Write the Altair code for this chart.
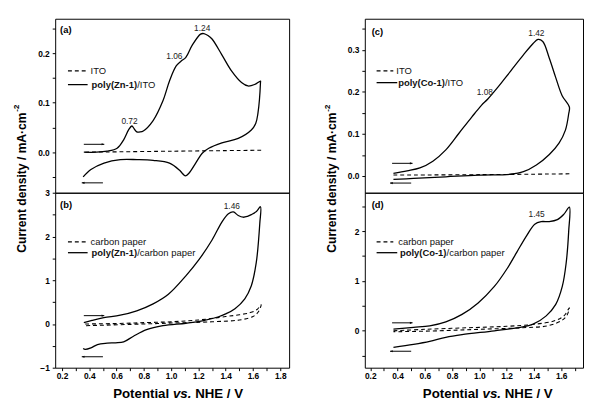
import altair as alt
import pandas as pd

FONT = "Liberation Sans"

# ---------------- data ----------------
# (a) poly(Zn-1)/ITO  -- full CV loop, forward then reverse
a_x = [0.36, 0.45, 0.53, 0.604, 0.652, 0.688, 0.712, 0.73, 0.748, 0.77, 0.796, 0.868, 0.94, 0.988,
       1.036, 1.072, 1.108, 1.156, 1.216, 1.24, 1.27, 1.30, 1.372, 1.444, 1.516, 1.564, 1.612, 1.655,
       1.655, 1.636, 1.62, 1.588, 1.492, 1.372, 1.276, 1.228, 1.18, 1.132, 1.104, 1.08, 1.06, 0.988,
       0.868, 0.75, 0.628, 0.508, 0.412, 0.355]
a_y = [0.0, 0.0, 0.002, 0.008, 0.025, 0.045, 0.053, 0.047, 0.041, 0.041, 0.043, 0.064, 0.104, 0.144,
       0.174, 0.184, 0.192, 0.217, 0.239, 0.240, 0.236, 0.229, 0.197, 0.164, 0.141, 0.134, 0.137, 0.144,
       0.141, 0.078, 0.058, 0.045, 0.028, 0.019, 0.008, -0.002, -0.022, -0.042, -0.048, -0.042, -0.036, -0.022,
       -0.0165, -0.015, -0.015, -0.022, -0.035, -0.05]
a_ref_x = [0.37, 1.0, 1.66]
a_ref_y = [0.0, 0.002, 0.004]

# (b) poly(Zn-1)/carbon paper
b_x = [0.36, 0.42, 0.507, 0.627, 0.748, 0.868, 0.98, 1.108, 1.204, 1.30, 1.372, 1.42, 1.456, 1.492,
       1.528, 1.56, 1.588, 1.625, 1.655,
       1.65, 1.624, 1.588, 1.54, 1.468, 1.40, 1.348, 1.228, 1.108, 0.94, 0.82, 0.724, 0.652, 0.592,
       0.532, 0.46, 0.412, 0.37, 0.355]
b_y = [0.03, 0.08, 0.143, 0.20, 0.30, 0.46, 0.68, 1.10, 1.47, 1.92, 2.33, 2.52, 2.56, 2.48,
       2.44, 2.46, 2.50, 2.57, 2.68,
       2.30, 1.40, 0.875, 0.576, 0.35, 0.23, 0.165, 0.07, 0.016, -0.04, -0.13, -0.28, -0.41, -0.43,
       -0.44, -0.47, -0.545, -0.58, -0.56]
b_ref_x = [0.37, 0.6, 0.8, 1.0, 1.2, 1.4, 1.5, 1.58, 1.63, 1.66, 1.64, 1.6, 1.5, 1.3, 1.0, 0.7, 0.37]
b_ref_y = [0.0, 0.01, 0.03, 0.05, 0.09, 0.17, 0.21, 0.26, 0.33, 0.44, 0.28, 0.17, 0.09, 0.05, 0.02, -0.01, -0.04]

# (c) poly(Co-1)/ITO
c_x = [0.37, 0.47, 0.564, 0.659, 0.754, 0.849, 0.944, 1.015, 1.062, 1.133, 1.228, 1.323, 1.394, 1.43,
       1.465, 1.513, 1.56, 1.607, 1.66,
       1.655, 1.631, 1.584, 1.513, 1.418, 1.323, 1.228, 0.991, 0.754, 0.517, 0.37]
c_y = [0.006, 0.012, 0.019, 0.035, 0.062, 0.101, 0.140, 0.168, 0.183, 0.210, 0.249, 0.288, 0.315, 0.325,
       0.32, 0.28, 0.234, 0.191, 0.164,
       0.148, 0.109, 0.078, 0.051, 0.026, 0.01, 0.004, 0.002, -0.002, -0.006, -0.008]
c_ref_x = [0.37, 1.0, 1.66]
c_ref_y = [0.002, 0.003, 0.005]

# (d) poly(Co-1)/carbon paper
d_x = [0.37, 0.517, 0.636, 0.754, 0.873, 0.991, 1.11, 1.204, 1.275, 1.347, 1.406, 1.453, 1.512, 1.572,
       1.62, 1.66,
       1.655, 1.636, 1.608, 1.56, 1.49, 1.394, 1.30, 1.11, 0.873, 0.754, 0.636, 0.517, 0.37]
d_y = [0.035, 0.07, 0.10, 0.18, 0.33, 0.56, 0.89, 1.25, 1.58, 1.91, 2.14, 2.19, 2.19, 2.23,
       2.34, 2.48,
       2.0, 1.35, 0.89, 0.53, 0.30, 0.134, 0.07, 0.0, -0.077, -0.13, -0.21, -0.27, -0.33]
d_ref_x = [0.37, 0.6, 0.9, 1.2, 1.4, 1.55, 1.62, 1.66, 1.64, 1.6, 1.5, 1.3, 1.0, 0.7, 0.37]
d_ref_y = [0.0, 0.03, 0.06, 0.09, 0.13, 0.2, 0.3, 0.46, 0.30, 0.2, 0.1, 0.06, 0.03, 0.0, -0.02]

# peak annotations
a_pk_t, a_pk_x, a_pk_y = ["0.72", "1.06", "1.24"], [0.695, 1.024, 1.228], [0.064, 0.195, 0.252]
b_pk_t, b_pk_x, b_pk_y = ["1.46"], [1.445], [2.70]
c_pk_t, c_pk_x, c_pk_y = ["1.08", "1.42"], [1.04, 1.418], [0.199, 0.339]
d_pk_t, d_pk_x, d_pk_y = ["1.45"], [1.42], [2.35]

# scan-direction arrows: forward y, reverse y
a_arr = [0.016, -0.062]
b_arr = [0.19, -0.75]
c_arr = [0.03, -0.017]
d_arr = [0.16, -0.41]
ARR_FWD = [0.36, 0.51]
ARR_REV = [0.50, 0.345]

X_TICKS_L = [round(0.2 + 0.1 * k, 1) for k in range(17)]   # 0.2 .. 1.8
X_TICKS_R = [round(0.2 + 0.1 * k, 1) for k in range(16)]   # 0.2 .. 1.7


def ticks(lo, hi, step):
    out, v = [], lo
    while v <= hi + 1e-9:
        out.append(round(v, 3))
        v += step
    return out


def panel(sx, sy, rx, ry, xdom, ydom, yvals, yexpr, w, h, bottom, xt,
          pk, arr, leg, tag, ytitle):
    if bottom:
        xexpr = "(round(datum.value*10) % 2 == 0) ? format(datum.value, '.1f') : ''"
        xaxis = alt.Axis(values=xt, labelExpr=xexpr, title=None, grid=False, domain=False,
                         tickSize=3, tickColor="black", labelPadding=1, labelFont=FONT,
                         labelFontWeight="bold", labelFontSize=8.5, labelColor="black")
    else:
        xaxis = None
    yaxis = alt.Axis(values=yvals, labelExpr=yexpr, title=None, grid=False, domain=False,
                     tickSize=3, tickColor="black", labelPadding=3, labelFont=FONT,
                     labelFontWeight="bold", labelFontSize=8.5, labelColor="black")
    xs = alt.Scale(domain=xdom, nice=False, zero=False)
    X = alt.X("x:Q", scale=xs, axis=xaxis)
    Y = alt.Y("y:Q", scale=alt.Scale(domain=ydom, nice=False, zero=False), axis=yaxis)

    sol = pd.DataFrame({"x": sx, "y": sy, "i": range(len(sx))})
    ref = pd.DataFrame({"x": rx, "y": ry, "i": range(len(rx))})
    layers = [
        alt.Chart(ref).mark_line(color="black", strokeWidth=1.1, strokeDash=[4, 3],
                                 interpolate="catmull-rom").encode(x=X, y=Y, order="i:Q"),
        alt.Chart(sol).mark_line(color="black", strokeWidth=1.3,
                                 interpolate="catmull-rom").encode(x=X, y=Y, order="i:Q"),
    ]
    # arrows
    arrdf = pd.DataFrame({"x": [ARR_FWD[0], ARR_REV[0]], "x2": [ARR_FWD[1], ARR_REV[1]],
                          "y": arr, "d": ["f", "r"]})
    layers.append(alt.Chart(arrdf).mark_rule(color="black", strokeWidth=1).encode(
        x=X, x2="x2:Q", y=Y))
    layers.append(alt.Chart(arrdf[arrdf.d == "f"]).mark_point(
        shape="M0,0L-1,-0.4L-1,0.4Z", filled=True, color="black", size=30, opacity=1).encode(
        x=alt.X("x2:Q", scale=xs, axis=xaxis), y=Y))
    layers.append(alt.Chart(arrdf[arrdf.d == "r"]).mark_point(
        shape="M0,0L1,-0.4L1,0.4Z", filled=True, color="black", size=30, opacity=1).encode(
        x=alt.X("x2:Q", scale=xs, axis=xaxis), y=Y))
    # peak labels
    pkdf = pd.DataFrame({"t": pk[0], "x": pk[1], "y": pk[2]})
    layers.append(alt.Chart(pkdf).mark_text(font=FONT, fontSize=8.5, color="#222",
                                            baseline="middle").encode(x=X, y=Y, text="t:N"))
    # legend
    one = pd.DataFrame({"k": [0]})
    (dx0, dx1, dy, dtx, dtext), (sx0, sx1, sy_, btx, btext, bw, rtext) = leg
    layers += [
        alt.Chart(one).mark_rule(color="black", strokeWidth=1.1, strokeDash=[4, 3]).encode(
            x=alt.value(dx0), x2=alt.value(dx1), y=alt.value(dy)),
        alt.Chart(one).mark_rule(color="black", strokeWidth=1.3).encode(
            x=alt.value(sx0), x2=alt.value(sx1), y=alt.value(sy_)),
        alt.Chart(one).mark_text(text=dtext, font=FONT, fontSize=9.6, align="left",
                                 baseline="middle", color="#111").encode(
            x=alt.value(dtx), y=alt.value(dy)),
        alt.Chart(one).mark_text(text=btext, font=FONT, fontSize=9.6, fontWeight="bold",
                                 align="left", baseline="middle", color="#111").encode(
            x=alt.value(btx), y=alt.value(sy_)),
        alt.Chart(one).mark_text(text=rtext, font=FONT, fontSize=9.6, align="left",
                                 baseline="middle", color="#111").encode(
            x=alt.value(btx + bw), y=alt.value(sy_)),
        alt.Chart(one).mark_text(text=tag[0], font=FONT, fontSize=9.5, fontWeight="bold",
                                 align="left", baseline="middle", color="black").encode(
            x=alt.value(tag[1]), y=alt.value(tag[2])),
    ]
    if ytitle is not None:
        tx = ytitle
        layers += [
            alt.Chart(one).mark_text(text="Current density / mA\u00b7cm", font=FONT, fontSize=12.3,
                                     fontWeight="bold", angle=270, align="left", baseline="middle",
                                     color="black").encode(x=alt.value(tx), y=alt.value(238)),
            alt.Chart(one).mark_text(text="-2", font=FONT, fontSize=8, fontWeight="bold",
                                     angle=270, align="left", baseline="middle",
                                     color="black").encode(x=alt.value(tx - 4.5), y=alt.value(94.5)),
        ]
    if bottom:
        for txt, px, st in [("Potential", 59, "normal"), ("vs.", 119.8, "italic"),
                            ("NHE / V", 142.4, "normal")]:
            layers.append(alt.Chart(one).mark_text(text=txt, font=FONT, fontSize=13.5,
                                                   fontWeight="bold", fontStyle=st, align="left",
                                                   baseline="alphabetic", color="black").encode(
                x=alt.value(px), y=alt.value(209)))
    return alt.layer(*layers).properties(width=w, height=h)


ya_expr = "(abs(datum.value*10 - round(datum.value*10)) < 0.001) ? format(datum.value, '.1f') : ''"
yb_expr = "(abs(datum.value - round(datum.value)) < 0.001) ? format(datum.value, 'd') : ''"

WL, WR = 238, 222
XL, XR = [0.15, 1.865], [0.16, 1.76]

pa = panel(a_x, a_y, a_ref_x, a_ref_y, XL, [-0.082, 0.27], ticks(-0.05, 0.25, 0.05), ya_expr,
           WL, 177, False, X_TICKS_L, (a_pk_t, a_pk_x, a_pk_y), a_arr,
           ((13, 31, 53, 36, "ITO"), (13, 33, 67, 37, "poly(Zn-1)", 46.4, "/ITO")),
           ("(a)", 5, 12), -34)
pb = panel(b_x, b_y, b_ref_x, b_ref_y, XL, [-1, 3], ticks(-1, 3, 0.5), yb_expr,
           WL, 178, True, X_TICKS_L, (b_pk_t, b_pk_x, b_pk_y), b_arr,
           ((13, 31, 50, 36, "carbon paper"), (13, 33, 61, 37, "poly(Zn-1)", 46.4, "/carbon paper")),
           ("(b)", 5, 13), None)
pc = panel(c_x, c_y, c_ref_x, c_ref_y, XR, [-0.04, 0.374], ticks(-0.0, 0.35, 0.05), ya_expr,
           WR, 177, False, X_TICKS_R, (c_pk_t, c_pk_x, c_pk_y), c_arr,
           ((12, 29, 53, 32, "ITO"), (12, 33, 65, 34, "poly(Co-1)", 47.5, "/ITO")),
           ("(c)", 7, 14), -33)
pd_ = panel(d_x, d_y, d_ref_x, d_ref_y, XR, [-0.74, 2.77], ticks(-0.5, 2.5, 0.5), yb_expr,
            WR, 178, True, X_TICKS_R, (d_pk_t, d_pk_x, d_pk_y), d_arr,
            ((12, 29, 50, 34, "carbon paper"), (12, 33, 61, 35.7, "poly(Co-1)", 47.5, "/carbon paper")),
            ("(d)", 7, 13), None)

chart = alt.concat(pa, pc, pb, pd_, columns=2, spacing={"row": 0, "column": 77},
                   bounds="flush").properties(
    padding={"left": 5, "top": 6.5, "right": 0, "bottom": 0},
    background="white",
).configure_view(stroke="black", strokeWidth=1)

chart.save("out.html", embed_options={"renderer": "svg", "actions": False})
